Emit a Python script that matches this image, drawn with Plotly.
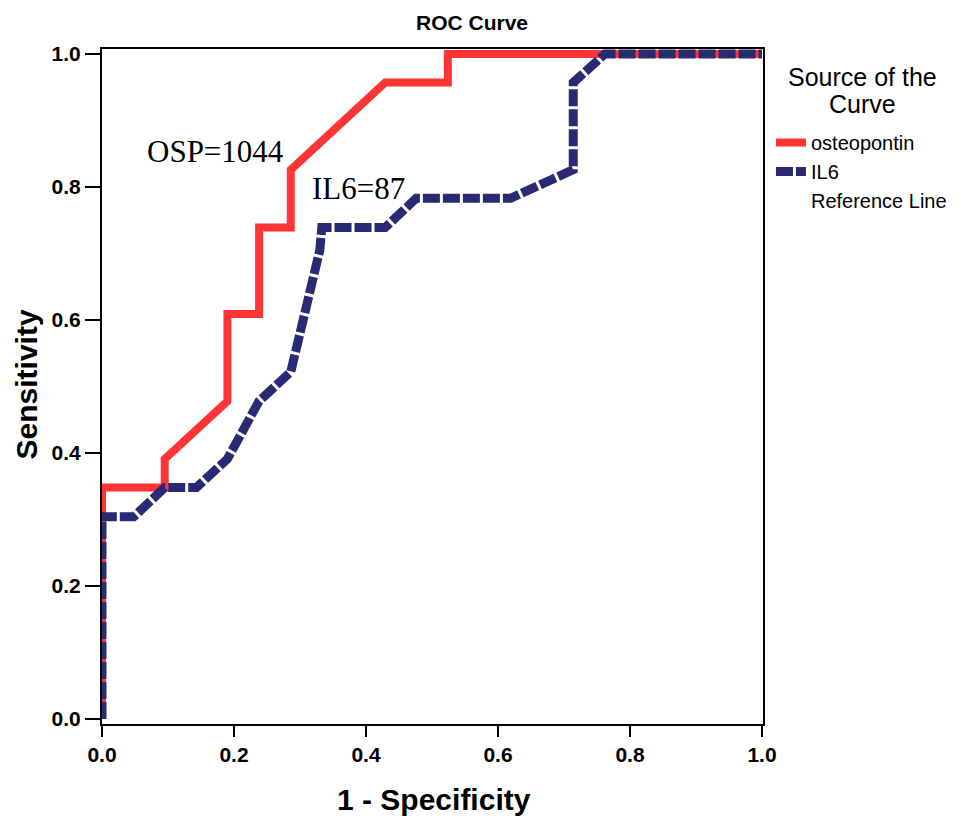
import plotly.graph_objects as go

# ROC curve data (1 - Specificity, Sensitivity)
osp_fpr = [0.0, 0.0, 0.095, 0.095, 0.190, 0.190, 0.238, 0.238, 0.286, 0.286, 0.429, 0.524, 0.524, 1.0]
osp_tpr = [0.0, 0.348, 0.348, 0.391, 0.478, 0.609, 0.609, 0.739, 0.739, 0.826, 0.957, 0.957, 1.0, 1.0]

il6_fpr = [0.0, 0.0, 0.048, 0.095, 0.143, 0.190, 0.238, 0.286, 0.330, 0.333, 0.429, 0.476, 0.619, 0.714, 0.714, 0.762, 1.0]
il6_tpr = [0.0, 0.304, 0.304, 0.348, 0.348, 0.391, 0.478, 0.522, 0.705, 0.739, 0.739, 0.783, 0.783, 0.826, 0.957, 1.0, 1.0]

ref_x = [0.0, 1.0]
ref_y = [0.0, 1.0]

tick_vals = [0.0, 0.2, 0.4, 0.6, 0.8, 1.0]
tick_text = ["0.0", "0.2", "0.4", "0.6", "0.8", "1.0"]

sans = "Arial, Liberation Sans, Helvetica, sans-serif"
serif = "Times New Roman, Liberation Serif, serif"

# page body has an 8px default margin; figure sized accordingly
W, H = 956, 808
L, T = 94, 41
PW, PH = 665, 675
R, B = W - L - PW, H - T - PH


def px_x(page_x):
    return (page_x - 8 - L) / PW


def px_y(page_y):
    return (T + PH - (page_y - 8)) / PH


fig = go.Figure()
fig.add_trace(go.Scatter(x=osp_fpr, y=osp_tpr, mode="lines", name="osteopontin",
                         line=dict(color="#ff3535", width=8)))
fig.add_trace(go.Scatter(x=il6_fpr, y=il6_tpr, mode="lines", name="IL6",
                         line=dict(color="#282a74", width=9, dash="17px,3px")))
fig.add_trace(go.Scatter(x=ref_x, y=ref_y, mode="lines", name="Reference Line",
                         line=dict(color="rgba(0,0,0,0)", width=1), hoverinfo="skip"))

fig.update_layout(
    width=W, height=H,
    margin=dict(l=L, r=R, t=T, b=B),
    paper_bgcolor="white", plot_bgcolor="white",
    title=dict(text="<b>ROC Curve</b>", x=(472 - 8) / W, y=1 - (23 - 8) / H,
               xanchor="center", yanchor="middle",
               font=dict(family=sans, size=21, color="black")),
    legend=dict(x=px_x(775), y=px_y(123), xanchor="left", yanchor="top",
                bgcolor="rgba(0,0,0,0)",
                font=dict(family=sans, size=20, color="black"),
                tracegroupgap=0, itemwidth=30),
    showlegend=True,
)

axis_common = dict(
    showgrid=False, zeroline=False, showline=True, linecolor="black", linewidth=2,
    mirror=True, ticks="outside", tickwidth=2, tickcolor="black",
    tickvals=tick_vals, ticktext=tick_text,
    tickfont=dict(family=sans, size=21, color="black", weight="bold"),
)
fig.update_xaxes(range=[0, 1.0015], ticklen=11, **axis_common)
fig.update_yaxes(range=[-0.0075, 1.0075], ticklen=15, **axis_common)

fig.add_annotation(text="<b>Sensitivity</b>", xref="paper", yref="paper", x=px_x(26), y=px_y(384),
                   textangle=-90, showarrow=False, xanchor="center", yanchor="middle",
                   font=dict(family=sans, size=30, color="black"))
fig.add_annotation(text="<b>1 - Specificity</b>", xref="paper", yref="paper", x=px_x(436), y=px_y(799),
                   showarrow=False, xanchor="center", yanchor="middle",
                   font=dict(family=sans, size=30, color="black"))
fig.add_annotation(text="Source of the", xref="paper", yref="paper", x=px_x(867), y=px_y(77),
                   showarrow=False, xanchor="center", yanchor="middle",
                   font=dict(family=sans, size=25, color="black"))
fig.add_annotation(text="Curve", xref="paper", yref="paper", x=px_x(867), y=px_y(104),
                   showarrow=False, xanchor="center", yanchor="middle",
                   font=dict(family=sans, size=25, color="black"))
fig.add_annotation(text="OSP=1044", x=0.172, y=0.853, xref="x", yref="y", showarrow=False,
                   xanchor="center", yanchor="middle", font=dict(family=serif, size=31, color="black"))
fig.add_annotation(text="IL6=87", x=0.389, y=0.797, xref="x", yref="y", showarrow=False,
                   xanchor="center", yanchor="middle", font=dict(family=serif, size=31, color="black"))

fig.write_html("out.html")
